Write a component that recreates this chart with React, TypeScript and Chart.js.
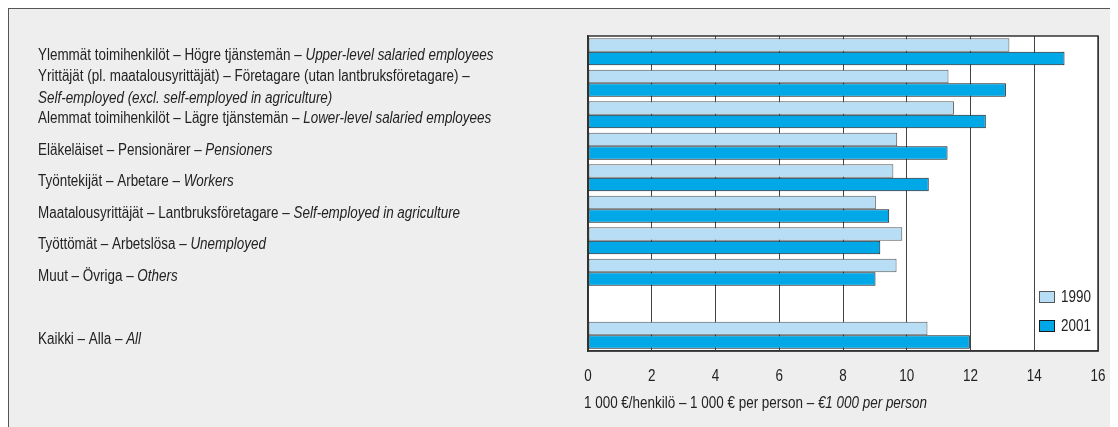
import React, { useEffect, useRef } from "react";
import { Chart, registerables } from "chart.js";

Chart.register(...registerables);

const FONT = '"Liberation Sans", Arial, sans-serif';

const labelFi = [
  "Ylemmät toimihenkilöt",
  "Yrittäjät (pl. maatalousyrittäjät)",
  "Alemmat toimihenkilöt",
  "Eläkeläiset",
  "Työntekijät",
  "Maatalousyrittäjät",
  "Työttömät",
  "Muut",
  "",
  "Kaikki",
];
const labelSv = [
  "Högre tjänstemän",
  "Företagare (utan lantbruksföretagare)",
  "Lägre tjänstemän",
  "Pensionärer",
  "Arbetare",
  "Lantbruksföretagare",
  "Arbetslösa",
  "Övriga",
  "",
  "Alla",
];
const labelEn = [
  "Upper-level salaried employees",
  "Self-employed (excl. self-employed in agriculture)",
  "Lower-level salaried employees",
  "Pensioners",
  "Workers",
  "Self-employed in agriculture",
  "Unemployed",
  "Others",
  "",
  "All",
];
// which labels put the English text on a second line
const wrapEnglish = [false, true, false, false, false, false, false, false, false, false];

const values1990 = [13.22, 11.31, 11.48, 9.7, 9.58, 9.03, 9.86, 9.68, null, 10.65];
const values2001 = [14.95, 13.11, 12.48, 11.28, 10.69, 9.45, 9.17, 9.02, null, 11.98];

const seriesNames = ["1990", "2001"];
const seriesColors = ["#b7def5", "#00a8e8"];
const seriesBorders = ["#555555", "#1a1a1a"];

const xTicks = [0, 2, 4, 6, 8, 10, 12, 14, 16];
const axisTitleNormal = "1 000 €/henkilö – 1 000 € per person – ";
const axisTitleItalic = "€1 000 per person";

const TEXT = "#222222";
const FS = 16;
const SX = 0.84; // condensed look

function drawSegments(ctx: CanvasRenderingContext2D, segs: [string, boolean][], x: number, y: number, align = "left") {
  let total = 0;
  for (const [t, it] of segs) {
    ctx.font = `${it ? "italic " : ""}${FS}px ${FONT}`;
    total += ctx.measureText(t).width;
  }
  ctx.save();
  ctx.translate(x, y);
  ctx.scale(SX, 1);
  ctx.textAlign = "left";
  let cx = align === "center" ? -total / 2 : 0;
  for (const [t, it] of segs) {
    ctx.font = `${it ? "italic " : ""}${FS}px ${FONT}`;
    ctx.fillText(t, cx, 0);
    cx += ctx.measureText(t).width;
  }
  ctx.restore();
}

const overlayPlugin = {
  id: "overlay",
  beforeDraw(chart: any) {
    const { ctx, chartArea: a } = chart;
    ctx.save();
    ctx.fillStyle = "#ffffff";
    ctx.fillRect(a.left, a.top, a.right - a.left, a.bottom - a.top);
    ctx.restore();
  },
  afterDraw(chart: any) {
    const { ctx, chartArea: a } = chart;
    const yScale = chart.scales.y;
    const xScale = chart.scales.x;
    ctx.save();
    // plot frame
    ctx.strokeStyle = "#333333";
    ctx.lineWidth = 1.5;
    ctx.strokeRect(a.left, a.top, a.right - a.left, a.bottom - a.top);

    ctx.fillStyle = TEXT;
    ctx.textBaseline = "middle";

    // category labels
    const lx = 38;
    for (let i = 0; i < labelFi.length; i++) {
      if (!labelFi[i]) continue;
      const cy = yScale.getPixelForValue(i) + 4;
      if (wrapEnglish[i]) {
        drawSegments(ctx, [[`${labelFi[i]} – ${labelSv[i]} –`, false]], lx, cy - 11);
        drawSegments(ctx, [[labelEn[i], true]], lx, cy + 11);
      } else {
        drawSegments(ctx, [[`${labelFi[i]} – ${labelSv[i]} – `, false], [labelEn[i], true]], lx, cy);
      }
    }

    // x tick labels
    for (const v of xTicks) {
      drawSegments(ctx, [[String(v), false]], xScale.getPixelForValue(v), a.bottom + 26, "center");
    }

    // axis title
    drawSegments(ctx, [[axisTitleNormal, false], [axisTitleItalic, true]], a.left - 4, 404);

    // legend
    const bx = a.right - 59;
    const legY = [297, 326];
    for (let k = 0; k < 2; k++) {
      ctx.fillStyle = seriesColors[k];
      ctx.fillRect(bx, legY[k] - 6, 16, 12);
      ctx.strokeStyle = seriesBorders[k];
      ctx.lineWidth = 1;
      ctx.strokeRect(bx + 0.5, legY[k] - 5.5, 15, 11);
      ctx.fillStyle = TEXT;
      drawSegments(ctx, [[seriesNames[k], false]], bx + 22, legY[k] + 1);
    }
    ctx.restore();
  },
};

export default function App() {
  const ref = useRef<HTMLCanvasElement | null>(null);
  useEffect(() => {
    if (!ref.current) return;
    const chart = new Chart(ref.current, {
      type: "bar",
      data: {
        labels: labelFi.map((l, i) => l || `gap${i}`),
        datasets: [0, 1].map((k) => ({
          label: seriesNames[k],
          data: k === 0 ? values1990 : values2001,
          backgroundColor: seriesColors[k],
          borderColor: seriesBorders[k],
          borderWidth: 1,
          borderSkipped: false,
          categoryPercentage: 0.86,
          barPercentage: 1,
        })),
      },
      options: {
        indexAxis: "y",
        responsive: false,
        animation: false,
        devicePixelRatio: 1,
        layout: { padding: { left: 588, right: 20, top: 36, bottom: 26 } },
        plugins: { legend: { display: false }, tooltip: { enabled: false } },
        scales: {
          x: {
            type: "linear",
            min: 0,
            max: 16,
            afterBuildTicks: (s: any) => {
              s.ticks = xTicks.map((v) => ({ value: v }));
            },
            afterFit: (s: any) => {
              s.height = 50;
            },
            grid: { display: true, drawTicks: false, color: "#444444", lineWidth: 1 },
            border: { display: true, color: "#333333", width: 1.5 },
            ticks: { display: false },
          },
          y: {
            type: "category",
            afterFit: (s: any) => {
              s.width = 0;
            },
            grid: { display: false },
            border: { display: true, color: "#333333", width: 1.5 },
            ticks: { display: false },
          },
        },
      },
      plugins: [overlayPlugin],
    } as any);
    return () => chart.destroy();
  }, []);
  return (
    <div style={{ position: "relative", width: 1110, height: 419 }}>
      <div
        style={{
          position: "absolute",
          left: 0,
          top: 0,
          width: 1110,
          height: 419,
          background: "#eeeeee",
          borderTop: "1px solid #555555",
          borderLeft: "1px solid #555555",
          boxSizing: "border-box",
        }}
      />
      <canvas
        ref={ref}
        width={1118}
        height={427}
        style={{ position: "absolute", left: -8, top: -8, width: 1118, height: 427 }}
      />
    </div>
  );
}
